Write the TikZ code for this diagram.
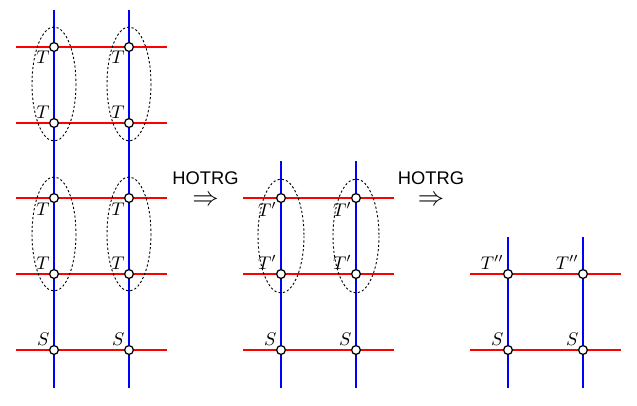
\documentclass[tikz,border=0pt]{standalone}
\usepackage{fontspec}
\newfontfamily\hfont{Liberation Sans}
\begin{document}
\begin{tikzpicture}[x=0.546pt,y=-0.546pt,
  hline/.style={red,line width=1.1pt},
  vline/.style={blue,line width=1.1pt},
  site/.style={circle,draw,fill=white,inner sep=0pt,minimum size=4.8pt,line width=0.7pt,label distance=0pt},
  lbl/.style={inner sep=0.3pt},
  grp/.style={draw,dash pattern=on 1.2pt off 1.2pt,line width=0.5pt},
  step label/.style={font=\hfont,align=center,inner sep=0pt,anchor=north}]
\useasboundingbox (0,0) rectangle (637,405);
% ---- line ends
\foreach \n/\x/\t in {A/54/10,B/129/10,C/281/161,D/356/161,E/508/237,F/583/237}{
  \coordinate (\n top) at (\x,\t);
  \coordinate (\n bot) at (\x,388);
}
\foreach \n/\y in {1/47,2/123,3/198,4/274,5/350}{
  \coordinate (L\n l) at (16,\y); \coordinate (L\n r) at (167,\y);}
\foreach \n/\y in {3/198,4/274,5/350}{
  \coordinate (M\n l) at (243,\y); \coordinate (M\n r) at (394,\y);}
\foreach \n/\y in {4/274,5/350}{
  \coordinate (R\n l) at (470,\y); \coordinate (R\n r) at (621,\y);}
% ---- lines
\foreach \n in {1,...,5}{\draw[hline] (L\n l) -- (L\n r);}
\foreach \n in {3,4,5}{\draw[hline] (M\n l) -- (M\n r);}
\foreach \n in {4,5}{\draw[hline] (R\n l) -- (R\n r);}
\foreach \n in {A,B,C,D,E,F}{\draw[vline] (\n top) -- (\n bot);}
% ---- grouping ellipses
\foreach \x in {54,129}{
  \draw[grp] (\x,84) ellipse [x radius=22, y radius=57];
  \draw[grp] (\x,234) ellipse [x radius=22, y radius=57];}
\foreach \x in {281,356}{
  \draw[grp] (\x,236) ellipse [x radius=23, y radius=57];}
% ---- sites
\foreach \c/\x in {a/54,b/129}{
  \node[site,label={[lbl]below left:$T$}] (L1\c) at (\x,47) {};
  \node[site,label={[lbl]above left:$T$}] (L2\c) at (\x,123) {};
  \node[site,label={[lbl]below left:$T$}] (L3\c) at (\x,198) {};
  \node[site,label={[lbl]above left:$T$}] (L4\c) at (\x,274) {};
  \node[site,label={[lbl]above left:$S$}] (L5\c) at (\x,350) {};
}
\foreach \c/\x in {a/281,b/356}{
  \node[site,label={[lbl]below left:$T'$}] (M3\c) at (\x,198) {};
  \node[site,label={[lbl]above left:$T'$}] (M4\c) at (\x,274) {};
  \node[site,label={[lbl]above left:$S$}] (M5\c) at (\x,350) {};
}
\foreach \c/\x in {a/508,b/583}{
  \node[site,label={[lbl]above left:$T''$}] (R4\c) at (\x,274) {};
  \node[site,label={[lbl]above left:$S$}] (R5\c) at (\x,350) {};
}
% ---- step labels
\node[step label] (h1) at (205.5,171) {HOTRG\\[-0.5pt]{\Large$\Rightarrow$}};
\node[step label] (h2) at (431,171) {HOTRG\\[-0.5pt]{\Large$\Rightarrow$}};
\end{tikzpicture}
\end{document}
